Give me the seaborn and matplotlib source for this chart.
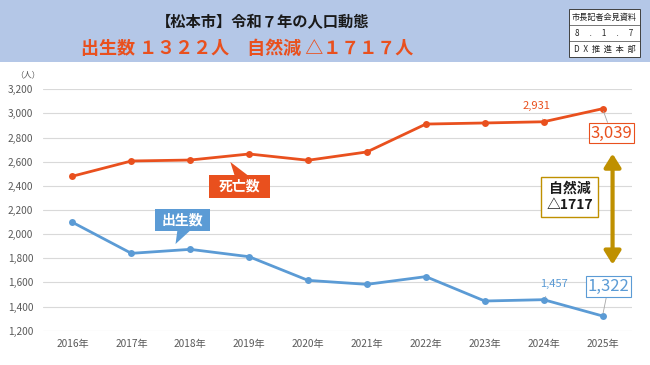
import numpy as np
import pandas as pd
import matplotlib
matplotlib.use('Agg')
import matplotlib.pyplot as plt
from matplotlib.patches import Rectangle, Polygon, FancyArrowPatch
import seaborn as sns

# Data
years = ['2016年', '2017年', '2018年', '2019年', '2020年',
         '2021年', '2022年', '2023年', '2024年', '2025年']
deaths = [2480, 2606, 2614, 2664, 2612, 2681, 2912, 2921, 2931, 3039]
births = [2098, 1841, 1874, 1813, 1617, 1584, 1648, 1446, 1457, 1322]
y_ticks = [1200, 1400, 1600, 1800, 2000, 2200, 2400, 2600, 2800, 3000, 3200]

ORANGE = '#E9501E'
BLUE = '#5B9BD5'
GOLD = '#BF9000'
HEADER = '#B4C7E7'

df = pd.DataFrame({
    'year': years * 2,
    'count': deaths + births,
    'kind': ['死亡数'] * len(years) + ['出生数'] * len(years),
})

sns.set_style('white')
plt.rcParams['font.family'] = ['Noto Sans CJK JP', 'DejaVu Sans']

fig = plt.figure(figsize=(6.5, 3.65), dpi=100)

# Header band
fig.patches.append(Rectangle((0, 1 - 62 / 365), 1, 62 / 365, transform=fig.transFigure,
                             facecolor=HEADER, edgecolor='none', zorder=0))
fig.text(263 / 650, 1 - 22 / 365, '【松本市】令和７年の人口動態', ha='center', va='center',
         fontsize=11, fontweight='bold', color='#1a1a1a')
fig.text(247 / 650, 1 - 48 / 365, '出生数 １３２２人　自然減 △１７１７人', ha='center', va='center',
         fontsize=13, fontweight='bold', color=ORANGE)

# Stamp box in the corner
sx0, sx1, sy0, sy1 = 569 / 650, 640 / 650, 1 - 57 / 365, 1 - 9 / 365
fig.patches.append(Rectangle((sx0, sy0), sx1 - sx0, sy1 - sy0, transform=fig.transFigure,
                             facecolor='white', edgecolor='#404040', lw=0.7, zorder=1))
row_h = (sy1 - sy0) / 3
for i in (1, 2):
    fig.add_artist(plt.Line2D([sx0, sx1], [sy1 - i * row_h] * 2, transform=fig.transFigure,
                              color='#404040', lw=0.5))
stamp_rows = ['市長記者会見資料', '8　 .　 1　 .　 7', 'D  X  推  進  本  部']
for i, s in enumerate(stamp_rows):
    fig.text((sx0 + sx1) / 2, sy1 - (i + 0.5) * row_h, s, ha='center', va='center',
             fontsize=5.9, color='#222222')

ax = fig.add_axes([43 / 650, 1 - 330.7 / 365, 589 / 650, 241.4 / 365])
sns.lineplot(data=df, x='year', y='count', hue='kind', palette={'死亡数': ORANGE, '出生数': BLUE},
             marker='o', markersize=5, markeredgewidth=0, linewidth=2, sort=False,
             legend=False, ax=ax)

ax.set_ylim(1200, 3200)
ax.set_xlim(-0.5, 9.5)
ax.set_yticks(y_ticks)
ax.set_yticklabels([f'{v:,}' for v in y_ticks])
ax.grid(axis='y', color='#D9D9D9', lw=0.8)
ax.set_axisbelow(True)
for sp in ax.spines.values():
    sp.set_visible(False)
ax.tick_params(axis='both', length=0, labelsize=7.3, labelcolor='#595959')
ax.tick_params(axis='y', pad=7)
ax.tick_params(axis='x', pad=6)
ax.set_xlabel('')
ax.set_ylabel('')
fig.text(28 / 650, 1 - 75 / 365, '（人）', ha='center', va='center', fontsize=6, color='#595959')

# Series labels as callout boxes
ax.add_patch(Rectangle((2.31, 2300), 1.05, 190, facecolor=ORANGE, edgecolor='none', zorder=4))
ax.add_patch(Polygon([(2.68, 2598), (2.75, 2490), (2.97, 2490)], closed=True,
                     facecolor=ORANGE, edgecolor='none', zorder=4))
ax.text(2.835, 2395, '死亡数', ha='center', va='center', color='white', fontsize=10,
        fontweight='bold', zorder=5)

ax.add_patch(Rectangle((1.41, 2026), 0.93, 182, facecolor=BLUE, edgecolor='none', zorder=4))
ax.add_patch(Polygon([(1.75, 1918), (1.78, 2026), (1.99, 2026)], closed=True,
                     facecolor=BLUE, edgecolor='none', zorder=4))
ax.text(1.875, 2117, '出生数', ha='center', va='center', color='white', fontsize=10,
        fontweight='bold', zorder=5)

# Value labels
ax.annotate(f'{deaths[8]:,}', xy=(8, deaths[8]), xytext=(7.88, 3065), ha='center', va='center',
            fontsize=8, color=ORANGE,
            arrowprops=dict(arrowstyle='-', color='#A6A6A6', lw=0.6, shrinkA=4, shrinkB=2))
ax.annotate(f'{deaths[9]:,}', xy=(9, deaths[9]), xytext=(9.15, 2838), ha='center', va='center',
            fontsize=12, color=ORANGE,
            bbox=dict(boxstyle='square,pad=0.1', facecolor='white', edgecolor=ORANGE, lw=0.8),
            arrowprops=dict(arrowstyle='-', color='#A6A6A6', lw=0.6, shrinkA=0, shrinkB=2))
ax.annotate(f'{births[8]:,}', xy=(8, births[8]), xytext=(8.18, 1590), ha='center', va='center',
            fontsize=8, color=BLUE,
            arrowprops=dict(arrowstyle='-', color='#A6A6A6', lw=0.6, shrinkA=4, shrinkB=2))
ax.annotate(f'{births[9]:,}', xy=(9, births[9]), xytext=(9.1, 1565), ha='center', va='center',
            fontsize=12, color=BLUE,
            bbox=dict(boxstyle='square,pad=0.1', facecolor='white', edgecolor=BLUE, lw=0.8),
            arrowprops=dict(arrowstyle='-', color='#A6A6A6', lw=0.6, shrinkA=0, shrinkB=2))

# Gap arrow and natural decrease box
ax.add_patch(FancyArrowPatch((9.17, 2690), (9.17, 1725), arrowstyle='<|-|>,head_length=8,head_width=5',
                             color=GOLD, lw=3, mutation_scale=1, zorder=3))
ax.text(8.44, 2308, '自然減\n△' + str(deaths[9] - births[9]), ha='center', va='center',
        fontsize=10, fontweight='bold', color='#1a1a1a', linespacing=1.15,
        bbox=dict(boxstyle='square,pad=0.4', facecolor='white', edgecolor=GOLD, lw=1))

fig.savefig('out.png', dpi=100)
